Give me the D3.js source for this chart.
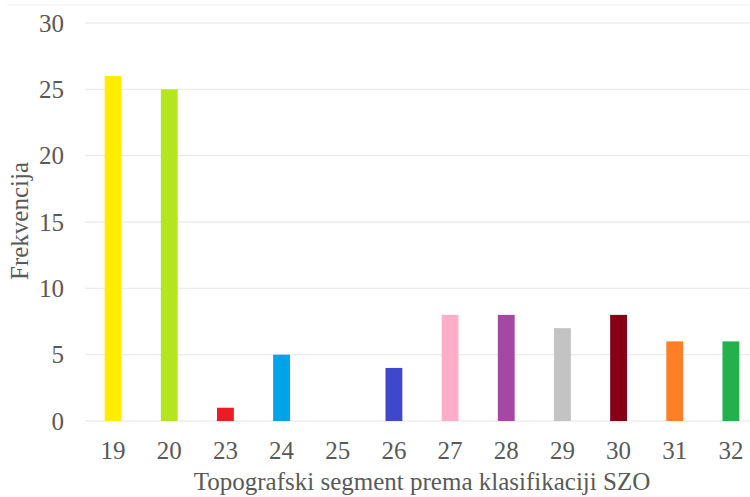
<!DOCTYPE html>
<html><head><meta charset="utf-8">
<script src="https://cdn.jsdelivr.net/npm/d3@7"></script>
<style>body{margin:0;background:#fff}svg{display:block}
svg text{font-family:"Liberation Serif","Times New Roman",Tinos,"DejaVu Serif",serif;}</style>
</head><body>
<svg id="c" width="750" height="497"></svg>
<script>
const categories = ["19","20","23","24","25","26","27","28","29","30","31","32"];
const values = [26,25,1,5,0,4,8,8,7,8,6,6];
const colors = ["#FFED00","#B5E61D","#ED1C24","#00A2E8","#cccccc","#3F48CC","#FFAEC9","#A349A4","#C3C3C3","#880015","#FF7F27","#22B14C"];
const yTicks = [0,5,10,15,20,25,30];

const svg = d3.select("#c");
const x = d3.scaleBand().domain(categories).range([85,759]).paddingInner(0.7).paddingOuter(0.35);
const y = d3.scaleLinear().domain([0,30]).range([421,23]);

svg.append("line").attr("x1",7).attr("x2",750).attr("y1",5).attr("y2",5).attr("stroke","#f0f0f0");

svg.append("g").selectAll("line").data(yTicks).join("line")
  .attr("x1",85).attr("x2",750).attr("y1",d=>y(d)).attr("y2",d=>y(d))
  .attr("stroke","#ececec").attr("stroke-width",1.3);

const yAxis = d3.axisLeft(y).tickValues(yTicks).tickSize(0).tickPadding(0);
const gy = svg.append("g").attr("transform","translate(64,0)").call(yAxis);
gy.select(".domain").remove();
gy.attr("font-family",null).attr("font-size",null);
gy.selectAll("text").style("font-size","25px").attr("fill","#595959");

svg.append("g").selectAll("rect").data(categories).join("rect")
  .attr("x",d=>x(d)).attr("width",x.bandwidth())
  .attr("y",(d,i)=>y(values[i])).attr("height",(d,i)=>y(0)-y(values[i]))
  .attr("fill",(d,i)=>colors[i]);

const xAxis = d3.axisBottom(x).tickSize(0).tickPadding(0);
const gx = svg.append("g").attr("transform","translate(0,441)").call(xAxis);
gx.select(".domain").remove();
gx.attr("font-family",null).attr("font-size",null);
gx.selectAll("text").style("font-size","25px").attr("fill","#595959").attr("dy","0.35em").attr("y",9);

svg.append("text").attr("x",422).attr("y",490).attr("text-anchor","middle")
  .style("font-size","25px").attr("fill","#595959")
  .text("Topografski segment prema klasifikaciji SZO");

svg.append("text").attr("transform","translate(28,221) rotate(-90)").attr("text-anchor","middle")
  .style("font-size","25px").attr("fill","#595959")
  .text("Frekvencija");
</script>
</body></html>
